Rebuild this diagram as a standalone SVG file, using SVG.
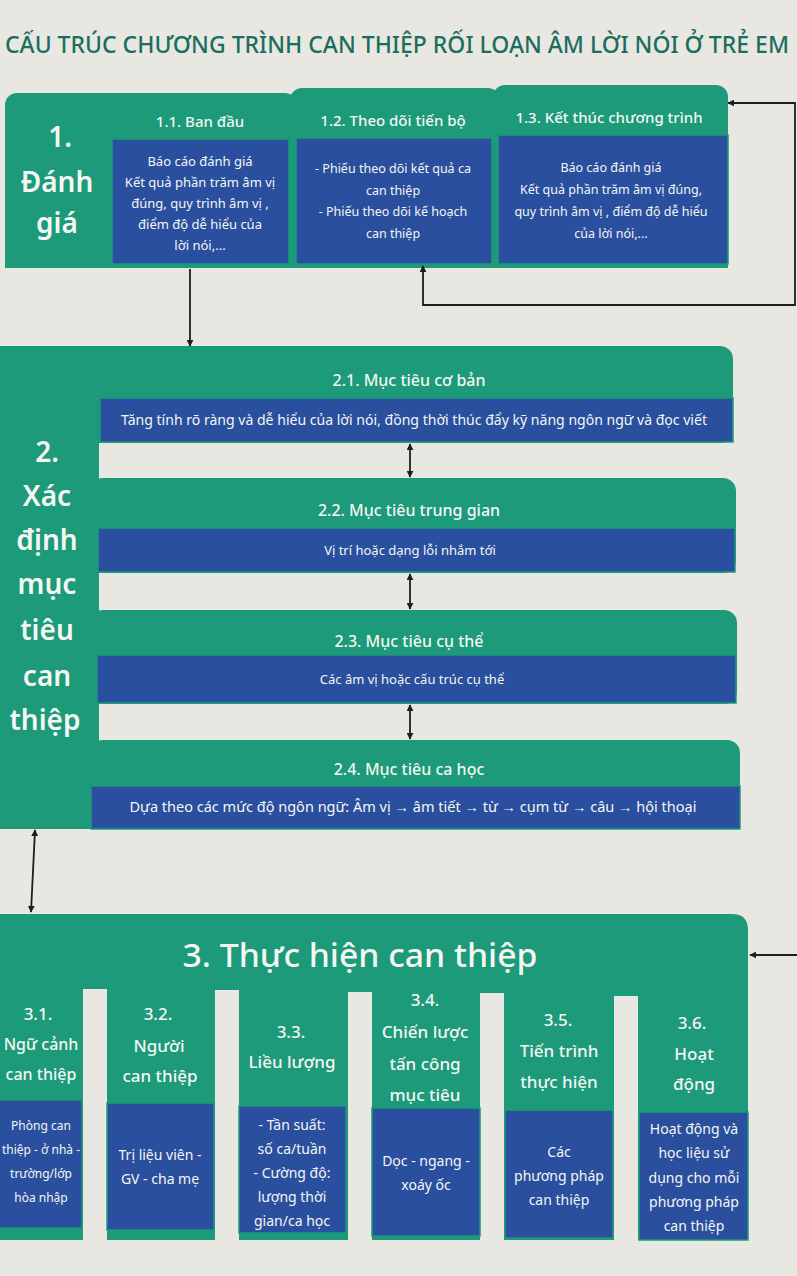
<svg xmlns="http://www.w3.org/2000/svg" width="797" height="1276" viewBox="0 0 797 1276">
<defs>
<style>
.bg{fill:#e9e7e2}
.g{fill:#1c9a79}
.b{fill:#2a4f9e;stroke:#1c9a79;stroke-width:1.5}
.t{font-family:"Noto Sans","Open Sans","Liberation Sans",sans-serif;fill:#f4f6f2;text-anchor:middle}
.big{font-size:28px;font-weight:600}
.h1{font-size:15px;font-weight:500}
.h2{font-size:16px;font-weight:500}
.h3{font-size:17px;font-weight:500}
.s{font-size:12.5px}
.s2{font-size:13px}
.s3{font-size:14px}
.s4{font-size:12px}
.title{font-family:"Noto Sans","Open Sans","Liberation Sans",sans-serif;font-size:23px;font-weight:500;fill:#1b6e5e}
.c{fill:none;stroke:#1e1e1e;stroke-width:1.8}
</style>
<marker id="ah" viewBox="0 0 10 10" refX="9" refY="5" markerWidth="7" markerHeight="7" markerUnits="userSpaceOnUse" orient="auto-start-reverse">
<path d="M0,0 L10,5 L0,10 z" fill="#1e1e1e"/>
</marker>
</defs>
<rect class="bg" x="0" y="0" width="797" height="1276"/>
<text class="title" x="5" y="53" textLength="784" lengthAdjust="spacingAndGlyphs">CẤU TRÚC CHƯƠNG TRÌNH CAN THIỆP RỐI LOẠN ÂM LỜI NÓI Ở TRẺ EM</text>

<g id="section1">
<rect class="g" x="5" y="93" width="292" height="175" rx="12"/>
<rect class="g" x="290" y="88" width="210" height="180" rx="12"/>
<rect class="g" x="493" y="85" width="235" height="183" rx="12"/>
<rect class="g" x="5" y="150" width="723" height="118"/>
<text class="t big" x="60" y="147">1.</text>
<text class="t big" x="57" y="192">Đánh</text>
<text class="t big" x="57" y="233">giá</text>
</g>
<g id="n11">
<text class="t h1" x="200" y="127">1.1. Ban đầu</text>
<rect class="b" x="112" y="139" width="177" height="125"/>
<text class="t s2" x="200" y="166">Báo cáo đánh giá</text>
<text class="t s2" x="200" y="187">Kết quả phần trăm âm vị</text>
<text class="t s2" x="200" y="208">đúng, quy trình âm vị ,</text>
<text class="t s2" x="200" y="229">điểm độ dễ hiểu của</text>
<text class="t s2" x="200" y="250">lời nói,...</text>
</g>
<g id="n12">
<text class="t h1" x="393" y="126">1.2. Theo dõi tiến bộ</text>
<rect class="b" x="296" y="138" width="196" height="126"/>
<text class="t s" x="393" y="173">- Phiếu theo dõi kết quả ca</text>
<text class="t s" x="393" y="195">can thiệp</text>
<text class="t s" x="393" y="216">- Phiếu theo dõi  kế hoạch</text>
<text class="t s" x="393" y="238">can thiệp</text>
</g>
<g id="n13">
<text class="t h1" x="609" y="123">1.3. Kết thúc chương trình</text>
<rect class="b" x="498" y="135" width="230" height="129"/>
<text class="t s" x="611" y="172">Báo cáo đánh giá</text>
<text class="t s" x="611" y="194">Kết quả phần trăm âm vị đúng,</text>
<text class="t s" x="611" y="216">quy trình âm vị , điểm độ dễ hiểu</text>
<text class="t s" x="611" y="238">của lời nói,...</text>
</g>

<g id="section2">
<rect class="g" x="0" y="346" width="99" height="483"/>
<rect class="g" x="5" y="346" width="728" height="97" rx="13"/>
<text class="t big" x="47" y="462">2.</text>
<text class="t big" x="47" y="506">Xác</text>
<text class="t big" x="47" y="550">định</text>
<text class="t big" x="47" y="594">mục</text>
<text class="t big" x="47" y="640">tiêu</text>
<text class="t big" x="47" y="686">can</text>
<text class="t big" x="45" y="730">thiệp</text>
</g>
<g id="n21">
<text class="t h2" x="409" y="386">2.1. Mục tiêu cơ bản</text>
<rect class="b" x="100" y="398" width="633" height="44"/>
<text class="t s3" x="414" y="425" textLength="586" lengthAdjust="spacingAndGlyphs">Tăng tính rõ ràng và dễ hiểu của lời nói, đồng thời thúc đẩy kỹ năng ngôn ngữ và đọc viết</text>
</g>
<g id="n22">
<rect class="g" x="90" y="478" width="646" height="95" rx="13"/>
<text class="t h2" x="409" y="516">2.2. Mục tiêu trung gian</text>
<rect class="b" x="98" y="528" width="637" height="44"/>
<text class="t s2" x="410" y="555">Vị trí hoặc dạng lỗi nhắm tới</text>
</g>
<g id="n23">
<rect class="g" x="90" y="610" width="647" height="94" rx="13"/>
<text class="t h2" x="409" y="647">2.3. Mục tiêu cụ thể</text>
<rect class="b" x="97" y="655" width="639" height="48"/>
<text class="t s2" x="412" y="684">Các âm vị hoặc cấu trúc cụ thể</text>
</g>
<g id="n24">
<rect class="g" x="90" y="740" width="650" height="89" rx="13"/>
<text class="t h2" x="409" y="775">2.4. Mục tiêu ca học</text>
<rect class="b" x="91" y="786" width="649" height="43"/>
<text class="t s3" x="413" y="812" textLength="567" lengthAdjust="spacingAndGlyphs">Dựa theo các mức độ ngôn ngữ: Âm vị → âm tiết → từ → cụm từ → câu → hội thoại</text>
</g>

<g id="section3">
<path class="g" d="M0,914 H732 Q748,914 748,930 V1240 H0 Z"/>
<rect class="bg" x="83" y="989" width="24" height="287"/>
<rect class="bg" x="215" y="990" width="24" height="286"/>
<rect class="bg" x="348" y="992" width="24" height="284"/>
<rect class="bg" x="480" y="993" width="24" height="283"/>
<rect class="bg" x="614" y="996" width="24" height="280"/>
<rect class="bg" x="0" y="1241" width="797" height="35"/>
<text class="t" x="360" y="967" style="font-size:32px;font-weight:500" textLength="355" lengthAdjust="spacingAndGlyphs">3. Thực hiện can thiệp</text>
</g>
<g id="n31">
<text class="t h3" x="38" y="1020">3.1.</text>
<text class="t" x="41" y="1050" style="font-size:16px;font-weight:500">Ngữ cảnh</text>
<text class="t" x="41" y="1080" style="font-size:16px;font-weight:500">can thiệp</text>
<rect class="b" x="-2" y="1100" width="84" height="128"/>
<text class="t s4" x="41" y="1130">Phòng can</text>
<text class="t s4" x="41" y="1154">thiệp - ở nhà -</text>
<text class="t s4" x="41" y="1178">trường/lớp</text>
<text class="t s4" x="41" y="1202">hòa nhập</text>
</g>
<g id="n32">
<text class="t h3" x="158" y="1020">3.2.</text>
<text class="t h3" x="159" y="1052">Người</text>
<text class="t h3" x="160" y="1082">can thiệp</text>
<rect class="b" x="107" y="1103" width="107" height="127"/>
<text class="t s3" x="160" y="1160">Trị liệu viên -</text>
<text class="t s3" x="160" y="1184">GV - cha mẹ</text>
</g>
<g id="n33">
<text class="t h3" x="291" y="1038">3.3.</text>
<text class="t h3" x="292" y="1068">Liều lượng</text>
<rect class="b" x="239" y="1106" width="107" height="127"/>
<text class="t s3" x="292" y="1130">- Tần suất:</text>
<text class="t s3" x="292" y="1154">số ca/tuần</text>
<text class="t s3" x="292" y="1178">- Cường độ:</text>
<text class="t s3" x="292" y="1202">lượng thời</text>
<text class="t s3" x="292" y="1226">gian/ca học</text>
</g>
<g id="n34">
<text class="t h3" x="425" y="1006">3.4.</text>
<text class="t h3" x="425" y="1038">Chiến lược</text>
<text class="t h3" x="425" y="1070">tấn công</text>
<text class="t h3" x="425" y="1101">mục tiêu</text>
<rect class="b" x="372" y="1108" width="108" height="128"/>
<text class="t s3" x="426" y="1166">Dọc - ngang -</text>
<text class="t s3" x="426" y="1190">xoáy ốc</text>
</g>
<g id="n35">
<text class="t h3" x="558" y="1026">3.5.</text>
<text class="t h3" x="559" y="1057">Tiến trình</text>
<text class="t h3" x="559" y="1088">thực hiện</text>
<rect class="b" x="505" y="1110" width="108" height="128"/>
<text class="t s3" x="559" y="1157">Các</text>
<text class="t s3" x="559" y="1181">phương pháp</text>
<text class="t s3" x="559" y="1205">can thiệp</text>
</g>
<g id="n36">
<text class="t h3" x="692" y="1029">3.6.</text>
<text class="t h3" x="694" y="1060">Hoạt</text>
<text class="t h3" x="694" y="1090">động</text>
<rect class="b" x="639" y="1112" width="109" height="128"/>
<text class="t s3" x="694" y="1134">Hoạt động và</text>
<text class="t s3" x="694" y="1158">học liệu sử</text>
<text class="t s3" x="694" y="1183">dụng cho mỗi</text>
<text class="t s3" x="694" y="1207">phương pháp</text>
<text class="t s3" x="694" y="1231">can thiệp</text>
</g>

<g id="connectors">
<path class="c" d="M190,269 V346" marker-end="url(#ah)"/>
<path class="c" d="M728,103 H795 V305 H423 V266" marker-start="url(#ah)" marker-end="url(#ah)"/>
<path class="c" d="M410,444 V477" marker-start="url(#ah)" marker-end="url(#ah)"/>
<path class="c" d="M410,574 V609" marker-start="url(#ah)" marker-end="url(#ah)"/>
<path class="c" d="M410,705 V739" marker-start="url(#ah)" marker-end="url(#ah)"/>
<path class="c" d="M35,830 L31,912" marker-start="url(#ah)" marker-end="url(#ah)"/>
<path class="c" d="M797,955 H750" marker-end="url(#ah)"/>
</g>
</svg>
